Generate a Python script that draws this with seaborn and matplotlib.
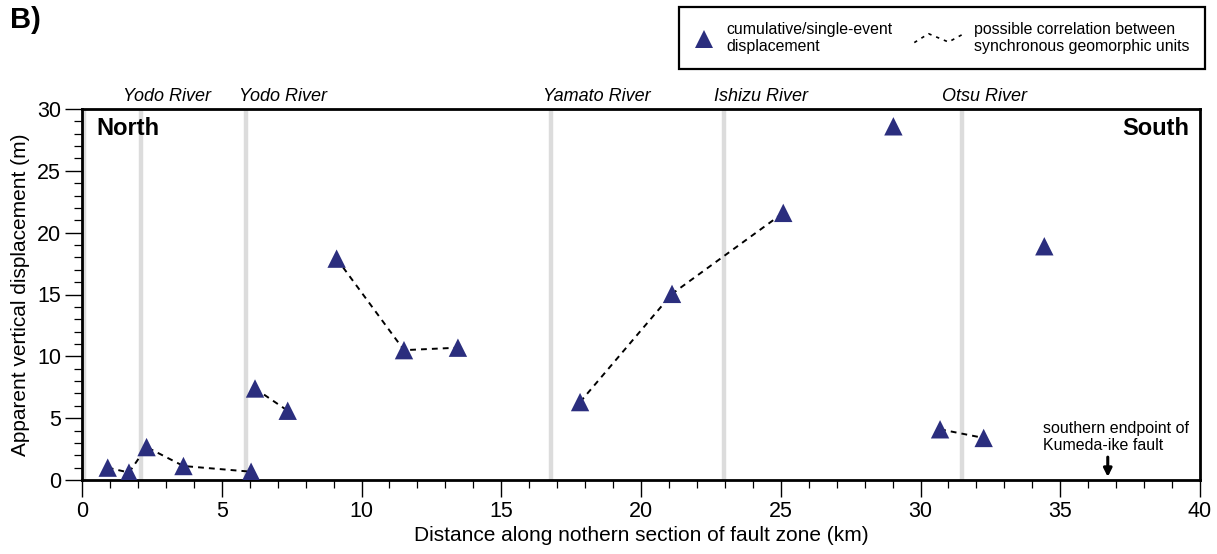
import matplotlib
matplotlib.use("Agg")
import matplotlib.pyplot as plt
import seaborn as sns
import pandas as pd
from matplotlib.lines import Line2D
from matplotlib.legend_handler import HandlerBase
from matplotlib.ticker import MultipleLocator

# ---- data ----
distance_km = [0.92, 1.68, 2.31, 3.63, 6.05, 6.19, 7.36, 9.11, 11.52, 13.45,
               17.82, 21.11, 25.09, 29.03, 30.70, 32.26, 34.43]
displacement_m = [1.0, 0.6, 2.66, 1.13, 0.67, 7.4, 5.6, 17.9, 10.5, 10.7,
                  6.3, 15.05, 21.6, 28.6, 4.1, 3.4, 18.9]
# correlation groups (None = unconnected)
groups = ["a", "a", "a", "a", "a", "b", "b", "c", "c", "c",
          "d", "d", "d", None, "e", "e", None]

river_x = [2.11, 5.87, 16.77, 22.97, 31.5]
river_names = ["Yodo River", "Yodo River", "Yamato River", "Ishizu River", "Otsu River"]
river_label_x = [1.47, 5.62, 16.49, 22.61, 30.77]
edge_line_x = [0.08]

endpoint_x = 36.7

df = pd.DataFrame({"x": distance_km, "y": displacement_m, "g": groups})

sns.set_theme(style="white")
plt.rcParams["font.family"] = ["Liberation Sans", "DejaVu Sans"]
plt.rcParams.update({"text.color": "black", "axes.labelcolor": "black",
                     "xtick.color": "black", "ytick.color": "black"})

fig = plt.figure(figsize=(12.17, 5.54), dpi=100)
ax = fig.add_axes([82/1217, 1-480/554, (1200-82)/1217, (480-109)/554])

navy = "#2B2E7E"
gray = "#DCDCDC"

for xv in edge_line_x + river_x:
    ax.axvline(xv, color=gray, lw=3.2, zorder=1)

for name, xl in zip(river_names, river_label_x):
    ax.text(xl, 31.0, name, fontstyle="italic", fontsize=13, ha="left",
            va="center", clip_on=False)

dfl = df.dropna(subset=["g"])
sns.lineplot(data=dfl, x="x", y="y", units="g", estimator=None, sort=False,
             color="black", lw=1.4, dashes=False, ax=ax, zorder=2,
             linestyle=(0, (3, 2.6)))

sns.scatterplot(data=df, x="x", y="y", marker="^", s=175, color=navy,
                edgecolor="none", ax=ax, zorder=3, legend=False)

ax.set_xlim(0, 40)
ax.set_ylim(0, 30)
ax.xaxis.set_major_locator(MultipleLocator(5))
ax.xaxis.set_minor_locator(MultipleLocator(1))
ax.yaxis.set_major_locator(MultipleLocator(5))
ax.yaxis.set_minor_locator(MultipleLocator(1))
ax.tick_params(axis="both", which="major", direction="out", length=12, width=1.0,
               labelsize=15.5, pad=3, color="black", labelcolor="black",
               left=True, bottom=True)
ax.tick_params(axis="both", which="minor", direction="out", length=6, width=0.9,
               color="black", left=True, bottom=True)
for sp in ax.spines.values():
    sp.set_visible(True)
    sp.set_color("black")
    sp.set_linewidth(2.0)

ax.set_xlabel("Distance along nothern section of fault zone (km)", fontsize=15,
              labelpad=3, color="black")
ax.set_ylabel("Apparent vertical displacement (m)", fontsize=15, labelpad=5,
              color="black")

ax.text(0.5, 28.4, "North", fontweight="bold", fontsize=17, ha="left", va="center")
ax.text(39.6, 28.4, "South", fontweight="bold", fontsize=17, ha="right", va="center")

ax.text(34.4, 3.5, "southern endpoint of\nKumeda-ike fault", fontsize=11.5,
        ha="left", va="center", linespacing=1.15)
ax.annotate("", xy=(endpoint_x, 0.25), xytext=(endpoint_x, 1.85),
            arrowprops=dict(arrowstyle="-|>", color="black", lw=2.2,
                            mutation_scale=12, shrinkA=0, shrinkB=0))

fig.text(10/1217, 1-20/554, "B)", fontweight="bold", fontsize=21, ha="left", va="center")


class HandlerZigzag(HandlerBase):
    def create_artists(self, legend, orig_handle, xdescent, ydescent, width,
                       height, fontsize, trans):
        span = 3.0 * fontsize
        x0 = -xdescent + width - span
        xs = [x0 + span * f for f in (0.0, 0.3, 0.72, 1.0)]
        ys = [-ydescent + height * f for f in (0.15, 0.95, 0.2, 0.85)]
        ln = Line2D(xs, ys, color="black", lw=1.2, linestyle=(0, (2, 3)))
        ln.set_transform(trans)
        return [ln]


tri = Line2D([], [], marker="^", color=navy, markersize=13, linestyle="none",
             markeredgewidth=0)
zz = Line2D([], [], color="black")
leg = fig.legend([tri, zz],
                 ["cumulative/single-event\ndisplacement",
                  "possible correlation between\nsynchronous geomorphic units"],
                 handler_map={zz: HandlerZigzag()},
                 loc="upper right", bbox_to_anchor=(1205/1217, 1-7/554),
                 borderaxespad=0,
                 ncol=2, fontsize=11.4, frameon=True, fancybox=False,
                 edgecolor="black", handlelength=1.2, handletextpad=0.8,
                 columnspacing=3.2, borderpad=0.95, labelspacing=0.2)
leg.get_frame().set_linewidth(1.6)
leg.get_frame().set_alpha(1)
for t in leg.get_texts():
    t.set_color("black")

fig.savefig("out.png", dpi=100)
